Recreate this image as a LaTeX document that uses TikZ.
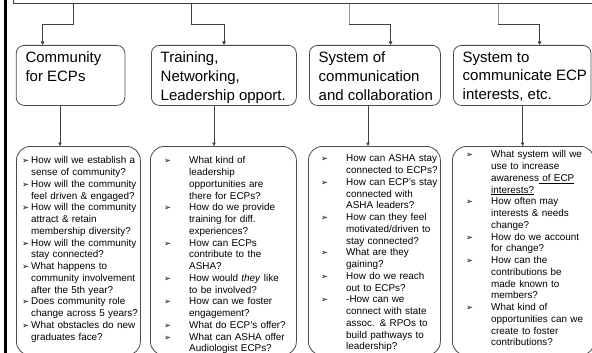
\documentclass[tikz,border=0pt]{standalone}
\usepackage{fontspec}
\setmainfont{Liberation Sans}
\newfontfamily\bulletfont{DejaVu Sans}
\usetikzlibrary{arrows.meta}
\newcommand{\qbul}{{\bulletfont\fontsize{8.3}{8}\selectfont ➢}}
\newcommand{\qitem}[2]{\par\noindent\hangindent=#1\hangafter=1\makebox[#1][l]{\qbul}#2\par}
\newcommand{\nl}{\newline}
\begin{document}
\begin{tikzpicture}[x=1pt,y=-1pt,
  line/.style={draw=black!75, line width=0.8pt},
  conn/.style={line, -{Triangle[length=3.5pt,width=3.5pt]}},
  light/.style={draw=black!40, line width=0.8pt},
  hbox/.style={draw=black!70, line width=0.8pt, rounded corners=8pt, inner sep=0pt, anchor=north west},
  qbox/.style={draw=black!70, line width=0.8pt, rounded corners=14pt, inner sep=0pt, anchor=north west},
  htext/.style={anchor=north west, inner sep=0pt, align=left, font=\fontsize{15}{18.8}\selectfont},
  qtext/.style={anchor=north west, inner sep=0pt, align=left, font=\fontsize{9.9}{11.75}\selectfont}]
\useasboundingbox (0,0) rectangle (592,353);
\clip (0,0) rectangle (592,353);
% top box (cut off)
\node[draw=black!75, line width=0.8pt, minimum width=600pt, minimum height=40pt, anchor=south west, inner sep=0pt] (top) at (12.5,4) {};
% left bar
\fill[black] (3.5,0) rectangle (6.5,353);
% header boxes
\node[hbox, minimum width=108.7pt, minimum height=60pt] (h1) at (15.8,45) {};
\node[hbox, minimum width=145pt, minimum height=60pt] (h2) at (151,45) {};
\node[hbox, minimum width=131pt, minimum height=60pt] (h3) at (309,45) {};
\node[hbox, minimum width=137.6pt, minimum height=60pt] (h4) at (453,45) {};
\node[htext] (t1) at ([shift={(9.5,6.5)}]h1.north west) {Community\\for ECPs};
\node[htext] (t2) at ([shift={(9.5,6.5)}]h2.north west) {Training,\\Networking,\\Leadership opport.};
\node[htext] (t3) at ([shift={(9.5,6.5)}]h3.north west) {System of\\communication\\and collaboration};
\node[htext] (t4) at ([shift={(9.5,6.5)}]h4.north west) {System to\\communicate ECP\\interests, etc.};
% connectors from top box
\draw[conn] ([xshift=61.1pt]top.south west) -- ++(0,20) -| ([xshift=26.8pt]h1.north west);
\draw[conn] ([xshift=178.5pt]top.south west) -- ++(0,20) -| ([xshift=73pt]h2.north west);
\draw[conn] ([xshift=336.5pt]top.south west) -- ++(0,20) -| ([xshift=81.6pt]h3.north west);
\draw[conn] ([xshift=485.5pt]top.south west) -- ++(0,20) -| ([xshift=86.6pt]h4.north west);
\draw[light] ([xshift=336.5pt]top.south west) -- ++(0,20);
\draw[light] ([xshift=485.5pt]top.south west) -- ++(0,20);
% question boxes
\node[qbox, minimum width=124pt, minimum height=209pt] (q1) at (16,146) {};
\node[qbox, minimum width=146pt, minimum height=209pt] (q2) at (150,146) {};
\node[qbox, minimum width=132pt, minimum height=209pt] (q3) at (308,146) {};
\node[qbox, minimum width=142pt, minimum height=209pt] (q4) at (452,146) {};
\draw[conn] ([xshift=44.2pt]h1.south west) coordinate (a1) -- (a1 |- q1.north);
\draw[conn] ([xshift=63pt]h2.south west) coordinate (a2) -- (a2 |- q2.north);
\draw[conn] ([xshift=59pt]h3.south west) coordinate (a3) -- (a3 |- q3.north);
\draw[conn] ([xshift=69.6pt]h4.south west) coordinate (a4) -- (a4 |- q4.north);
% question texts
\node[qtext, text width=125pt] (x1) at ([shift={(6,6)}]q1.north west) {%
\qitem{9pt}{How will we establish a\nl sense of community?}%
\qitem{9pt}{How will the community\nl feel driven \& engaged?}%
\qitem{9pt}{How will the community\nl attract \& retain\nl membership diversity?}%
\qitem{9pt}{How will the community\nl stay connected?}%
\qitem{9pt}{What happens to\nl community involvement\nl after the 5th year?}%
\qitem{9pt}{Does community role\nl change across 5 years?}%
\qitem{9pt}{What obstacles do new\nl graduates face?}};
\node[qtext, text width=135pt] (x2) at ([shift={(14,6)}]q2.north west) {%
\qitem{25pt}{What kind of\nl leadership\nl opportunities are\nl there for ECPs?}%
\qitem{25pt}{How do we provide\nl training for diff.\nl experiences?}%
\qitem{25pt}{How can ECPs\nl contribute to the\nl ASHA?}%
\qitem{25pt}{How would \textit{they} like\nl to be involved?}%
\qitem{25pt}{How can we foster\nl engagement?}%
\qitem{25pt}{What do ECP's offer?}%
\qitem{25pt}{What can ASHA offer\nl Audiologist ECPs?}};
\node[qtext, text width=125pt] (x3) at ([shift={(13,4)}]q3.north west) {%
\qitem{25pt}{How can ASHA stay\nl connected to ECPs?}%
\qitem{25pt}{How can ECP's stay\nl connected with\nl ASHA leaders?}%
\qitem{25pt}{How can they feel\nl motivated/driven to\nl stay connected?}%
\qitem{25pt}{What are they\nl gaining?}%
\qitem{25pt}{How do we reach\nl out to ECPs?}%
\qitem{25pt}{-How can we\nl connect with state\nl assoc. \& RPOs to\nl build pathways to\nl leadership?}};
\node[qtext, text width=135pt] (x4) at ([shift={(14,0)}]q4.north west) {%
\qitem{25pt}{What system will we\nl use to increase\nl awareness\underline{\ of ECP}\nl \underline{interests?}}%
\qitem{25pt}{How often may\nl interests \& needs\nl change?}%
\qitem{25pt}{How do we account\nl for change?}%
\qitem{25pt}{How can the\nl contributions be\nl made known to\nl members?}%
\qitem{25pt}{What kind of\nl opportunities can we\nl create to foster\nl contributions?}};
\end{tikzpicture}
\end{document}
